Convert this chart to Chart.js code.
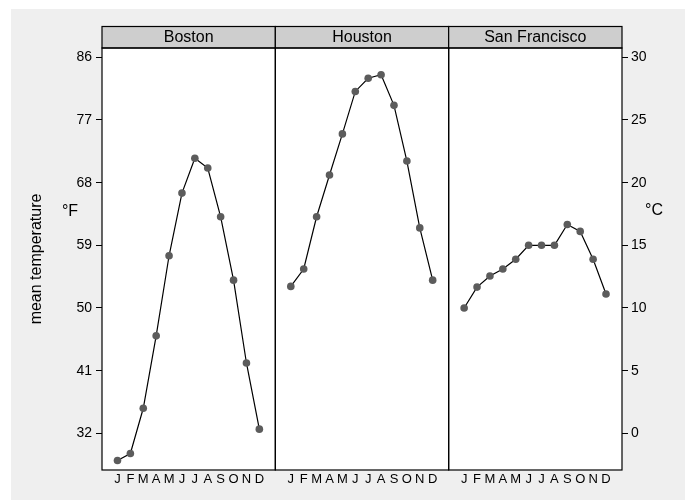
<!DOCTYPE html>
<html>
<head>
<meta charset="utf-8">
<script src="https://cdn.jsdelivr.net/npm/chart.js@4/dist/chart.umd.min.js"></script>
<style>
  html, body { margin: 0; padding: 0; background: #fff; }
  #wrap { width: 685px; height: 500px; }
</style>
</head>
<body>
<div id="wrap"><canvas id="tempChart" width="685" height="500"></canvas></div>
<script>
// monthly mean temperatures, degrees Fahrenheit
const months = ['J', 'F', 'M', 'A', 'M', 'J', 'J', 'A', 'S', 'O', 'N', 'D'];
const cities = ['Boston', 'Houston', 'San Francisco'];
const bostonF = [28.1, 29.1, 35.6, 46.0, 57.5, 66.5, 71.5, 70.1, 63.1, 54.0, 42.1, 32.6];
const houstonF = [53.1, 55.6, 63.1, 69.1, 75.0, 81.1, 83.0, 83.5, 79.1, 71.1, 61.5, 54.0];
const sanFranciscoF = [50.0, 53.0, 54.6, 55.6, 57.0, 59.0, 59.0, 59.0, 62.0, 61.0, 57.0, 52.0];
const fTicks = [32, 41, 50, 59, 68, 77, 86];
const cTicks = [0, 5, 10, 15, 20, 25, 30];

const fMin = 26.73, fMax = 87.34;
const toC = f => (f - 32) * 5 / 9;
const FONT = '"Liberation Sans", Arial, Helvetica, sans-serif';

const seriesF = [bostonF, houstonF, sanFranciscoF];

function panelData(values) {
    return values.map((v, i) => ({ x: i + 1, y: v }));
}

const datasets = seriesF.map((vals, i) => ({
    label: cities[i],
    data: panelData(vals),
    xAxisID: 'x' + i,
    yAxisID: 'y',
    borderColor: '#000',
    borderWidth: 1.2,
    pointRadius: 3.8,
    pointBackgroundColor: '#5c5c5c',
    pointBorderColor: '#5c5c5c',
    pointBorderWidth: 0,
    tension: 0,
    fill: false
}));

function monthAxis() {
    return {
        type: 'linear',
        position: 'bottom',
        stack: 'panels',
        min: -0.2,
        max: 13.24,
        afterBuildTicks: scale => {
            scale.ticks = months.map((m, i) => ({ value: i + 1 }));
        },
        afterFit: scale => { scale.height = 30; },
        grid: { display: false, drawTicks: false },
        border: { display: false },
        ticks: {
            autoSkip: false,
            maxRotation: 0,
            padding: 2,
            color: '#000',
            font: { family: FONT, size: 13 },
            callback: value => months[value - 1]
        }
    };
}

const panelFrame = {
    id: 'panelFrame',
    beforeDraw(chart) {
        const ctx = chart.ctx, a = chart.chartArea;
        ctx.save();
        ctx.fillStyle = '#ffffff';
        ctx.fillRect(0, 0, chart.width, chart.height);
        ctx.fillStyle = '#efefef';
        ctx.fillRect(11, 9, chart.width - 11, chart.height - 9);
        ctx.fillStyle = '#ffffff';
        ctx.fillRect(a.left, a.top, a.right - a.left, a.bottom - a.top);
        ctx.restore();
    },
    afterDraw(chart) {
        const ctx = chart.ctx, a = chart.chartArea;
        const headTop = 26.5;
        ctx.save();
        ctx.strokeStyle = '#000';
        ctx.lineWidth = 1.2;
        cities.forEach((city, i) => {
            const sc = chart.scales['x' + i];
            const w = sc.right - sc.left;
            ctx.fillStyle = '#cecece';
            ctx.fillRect(sc.left, headTop, w, a.top - headTop);
            ctx.strokeRect(sc.left, headTop, w, a.top - headTop);
            ctx.strokeRect(sc.left, a.top, w, a.bottom - a.top);
            ctx.fillStyle = '#000';
            ctx.font = '16px ' + FONT;
            ctx.textAlign = 'center';
            ctx.textBaseline = 'middle';
            ctx.fillText(city, sc.left + w / 2, (headTop + a.top) / 2 + 0.5);
        });

        ctx.fillStyle = '#000';
        ctx.font = '16px ' + FONT;
        ctx.textAlign = 'center';
        ctx.textBaseline = 'middle';
        ctx.fillText('°F', 70, 212);
        ctx.fillText('°C', 654, 211);

        ctx.translate(37, 259);
        ctx.rotate(-Math.PI / 2);
        ctx.fillText('mean temperature', 0, 0);
        ctx.restore();
    }
};

new Chart(document.getElementById('tempChart').getContext('2d'), {
    type: 'line',
    data: { datasets: datasets },
    options: {
        responsive: false,
        animation: false,
        devicePixelRatio: 1,
        layout: { padding: { top: 48, left: 0, right: 0, bottom: 0 } },
        plugins: {
            legend: { display: false },
            tooltip: { enabled: false }
        },
        scales: {
            x0: monthAxis(),
            x1: monthAxis(),
            x2: monthAxis(),
            y: {
                type: 'linear',
                position: 'left',
                min: fMin,
                max: fMax,
                afterBuildTicks: scale => {
                    scale.ticks = fTicks.map(v => ({ value: v }));
                },
                afterFit: scale => { scale.width = 102; },
                grid: { drawOnChartArea: false, drawTicks: true, tickLength: 6, color: '#000' },
                border: { display: false },
                ticks: { padding: 4, color: '#000', font: { family: FONT, size: 14 } }
            },
            yC: {
                type: 'linear',
                position: 'right',
                min: toC(fMin),
                max: toC(fMax),
                afterBuildTicks: scale => {
                    scale.ticks = cTicks.map(v => ({ value: v }));
                },
                afterFit: scale => { scale.width = 63; },
                grid: { drawOnChartArea: false, drawTicks: true, tickLength: 6, color: '#000' },
                border: { display: false },
                ticks: { padding: 3, color: '#000', font: { family: FONT, size: 14 } }
            }
        }
    },
    plugins: [panelFrame]
});
</script>
</body>
</html>
